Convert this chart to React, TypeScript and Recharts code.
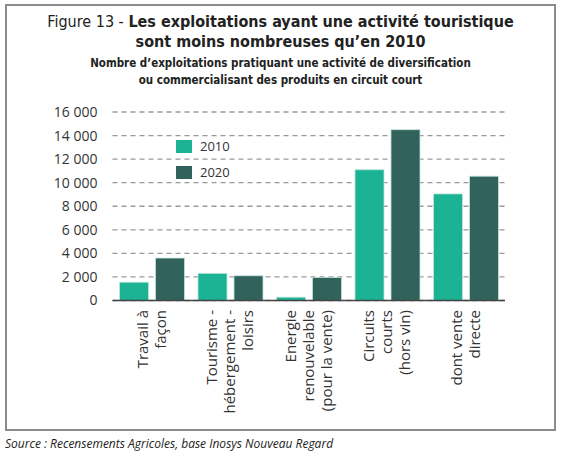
import { Bar, BarChart, CartesianGrid, Legend, XAxis, YAxis } from "recharts";

// Nombre d'exploitations par activité
const CATEGORIES = [
  ["Travail à", "façon"],
  ["Tourisme -", "hébergement -", "loisirs"],
  ["Energie", "renouvelable", "(pour la vente)"],
  ["Circuits", "courts", "(hors vin)"],
  ["dont vente", "directe"],
];
const VALUES_2010 = [1550, 2300, 280, 11100, 9050];
const VALUES_2020 = [3600, 2100, 1950, 14500, 10550];
const Y_TICKS = [0, 2000, 4000, 6000, 8000, 10000, 12000, 14000, 16000];

const COLOR_2010 = "#1bb394";
const COLOR_2020 = "#31625c";
const INK = "#333";
const FONT = "'Open Sans', sans-serif";
const TITLE_FONT = "'DejaVu Sans Condensed', 'DejaVu Sans', sans-serif";

const data = CATEGORIES.map((lines, i) => ({
  name: lines.join(" "),
  lines,
  y2010: VALUES_2010[i],
  y2020: VALUES_2020[i],
}));

const thousands = (v: number) => String(v).replace(/\B(?=(\d{3})+(?!\d))/g, " ");

function CategoryTick(props: { x?: number; y?: number; index?: number }) {
  const lines = CATEGORIES[props.index ?? 0];
  const x = Number(props.x ?? 0);
  const lineGap = 18;
  return (
    <g transform={`translate(${x},310)`}>
      <text transform="rotate(-90)" textAnchor="end" fill={INK} fontSize={15} fontFamily={FONT}>
        {lines.map((line, i) => (
          <tspan key={i} x={0} y={(i - (lines.length - 1) / 2) * lineGap + 5}>
            {line}
          </tspan>
        ))}
      </text>
    </g>
  );
}

function LegendBox(props: { payload?: { value?: string; color?: string }[] }) {
  return (
    <div style={{ fontFamily: FONT, fontSize: 13, color: INK }}>
      {(props.payload ?? []).map((p) => (
        <div key={p.value} style={{ display: "flex", alignItems: "center", height: 26 }}>
          <span style={{ width: 16, height: 13, background: p.color, marginRight: 8 }} />
          {p.value}
        </div>
      ))}
    </div>
  );
}

export default function App() {
  return (
    <div style={{ position: "absolute", left: 0, top: 0, width: 562, height: 457, background: "#fff" }}>
      <div
        style={{
          position: "absolute",
          left: 5,
          top: 4,
          width: 551,
          height: 427,
          border: "2px solid #8c8c8c",
          boxSizing: "border-box",
        }}
      />
      <div
        style={{
          position: "absolute",
          left: 5,
          width: 551,
          top: 12,
          textAlign: "center",
          fontFamily: TITLE_FONT,
          fontSize: 16,
          lineHeight: "20px",
          color: "#222",
        }}
      >
        Figure 13 - <b>Les exploitations ayant une activité touristique</b>
        <br />
        <b>sont moins nombreuses qu’en 2010</b>
      </div>
      <div
        style={{
          position: "absolute",
          left: 5,
          width: 551,
          top: 55,
          textAlign: "center",
          fontFamily: TITLE_FONT,
          fontWeight: "bold",
          fontSize: 11.5,
          lineHeight: "17px",
          color: "#222",
        }}
      >
        Nombre d’exploitations pratiquant une activité de diversification
        <br />
        ou commercialisant des produits en circuit court
      </div>
      <div style={{ position: "absolute", left: 0, top: 0 }}>
        <BarChart
          width={562}
          height={457}
          data={data}
          margin={{ top: 112, right: 57, bottom: 0, left: 0 }}
          barCategoryGap={7}
          barGap={7}
        >
          <CartesianGrid vertical={false} stroke="#999" strokeWidth={1.3} strokeDasharray="5 4" />
          <XAxis
            dataKey="name"
            height={156.5}
            interval={0}
            tickLine={false}
            axisLine={{ stroke: "#444", strokeWidth: 1.5 }}
            tick={<CategoryTick />}
          />
          <YAxis
            width={112.5}
            domain={[0, 16000]}
            ticks={Y_TICKS}
            tickFormatter={thousands}
            axisLine={false}
            tickLine={false}
            tickSize={0}
            tickMargin={15}
            tick={{ fill: INK, fontSize: 14, fontFamily: FONT }}
          />
          <Legend
            layout="horizontal"
            verticalAlign="middle"
            align="center"
            content={<LegendBox />}
            wrapperStyle={{ left: 176, top: 133, width: 80 }}
          />
          <Bar dataKey="y2010" name="2010" fill={COLOR_2010} stroke="#bfe3dc" strokeWidth={0.8} isAnimationActive={false} />
          <Bar dataKey="y2020" name="2020" fill={COLOR_2020} stroke="#bfe3dc" strokeWidth={0.8} isAnimationActive={false} />
        </BarChart>
      </div>
      <div
        style={{
          position: "absolute",
          left: 5,
          top: 435,
          fontFamily: FONT,
          fontStyle: "italic",
          fontSize: 12,
          color: "#222",
        }}
      >
        Source : Recensements Agricoles, base Inosys Nouveau Regard
      </div>
    </div>
  );
}
